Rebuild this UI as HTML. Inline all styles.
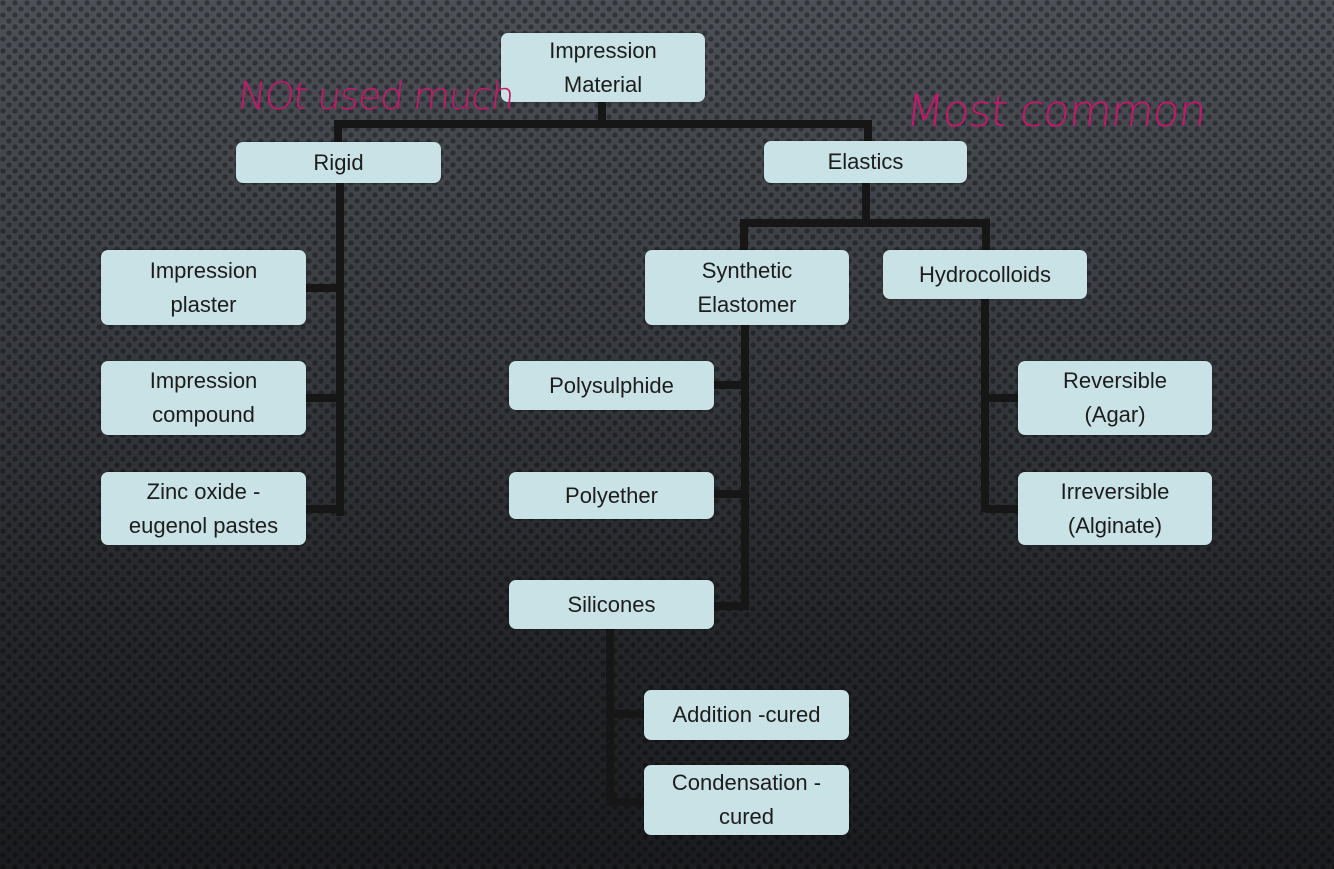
<!DOCTYPE html>
<html><head><meta charset="utf-8"><style>
html,body{margin:0;padding:0}
body{width:1334px;height:869px;overflow:hidden;position:relative;font-family:"Liberation Sans",sans-serif;
background:
radial-gradient(circle at 3px 3px, rgba(0,0,0,.35) 2.2px, transparent 3px) 0 0/12px 12px,
radial-gradient(circle at 3px 3px, rgba(0,0,0,.35) 2.2px, transparent 3px) 6px 6px/12px 12px,
linear-gradient(#4d5157 0%, #3a3d42 35%, #25272b 70%, #1b1c1f 100%);}
.b{position:absolute;background:#c9e2e5;border-radius:7px;display:flex;align-items:center;justify-content:center;text-align:center;font-size:22px;line-height:34px;color:#1c1c1c;box-shadow:0 0 2px rgba(0,0,0,.5)}
.l{position:absolute;background:#161616}
.h{position:absolute;color:#c8176a;font-family:"DejaVu Sans",sans-serif;font-weight:200;transform:skewX(-6deg);white-space:nowrap}
</style></head><body>
<div class="l" style="left:598px;top:100px;width:8px;height:28px"></div>
<div class="l" style="left:334px;top:120px;width:538px;height:8px"></div>
<div class="l" style="left:334px;top:120px;width:8px;height:24px"></div>
<div class="l" style="left:864px;top:120px;width:8px;height:24px"></div>
<div class="l" style="left:336px;top:182px;width:8px;height:334px"></div>
<div class="l" style="left:304px;top:284px;width:36px;height:8px"></div>
<div class="l" style="left:304px;top:394px;width:36px;height:8px"></div>
<div class="l" style="left:304px;top:505px;width:36px;height:8px"></div>
<div class="l" style="left:862px;top:182px;width:8px;height:44px"></div>
<div class="l" style="left:740px;top:219px;width:250px;height:8px"></div>
<div class="l" style="left:740px;top:219px;width:8px;height:34px"></div>
<div class="l" style="left:982px;top:219px;width:8px;height:34px"></div>
<div class="l" style="left:741px;top:324px;width:8px;height:286px"></div>
<div class="l" style="left:712px;top:381px;width:34px;height:8px"></div>
<div class="l" style="left:712px;top:490px;width:34px;height:8px"></div>
<div class="l" style="left:712px;top:602px;width:34px;height:8px"></div>
<div class="l" style="left:981px;top:298px;width:8px;height:214px"></div>
<div class="l" style="left:985px;top:394px;width:36px;height:8px"></div>
<div class="l" style="left:985px;top:505px;width:36px;height:8px"></div>
<div class="l" style="left:606px;top:628px;width:8px;height:178px"></div>
<div class="l" style="left:610px;top:710px;width:36px;height:8px"></div>
<div class="l" style="left:610px;top:798px;width:36px;height:8px"></div>
<div class="b" style="left:501px;top:33px;width:204px;height:69px">Impression<br>Material</div>
<div class="b" style="left:236px;top:142px;width:205px;height:41px">Rigid</div>
<div class="b" style="left:764px;top:141px;width:203px;height:42px">Elastics</div>
<div class="b" style="left:101px;top:250px;width:205px;height:75px">Impression<br>plaster</div>
<div class="b" style="left:101px;top:361px;width:205px;height:74px">Impression<br>compound</div>
<div class="b" style="left:101px;top:472px;width:205px;height:73px">Zinc oxide -<br>eugenol pastes</div>
<div class="b" style="left:645px;top:250px;width:204px;height:75px">Synthetic<br>Elastomer</div>
<div class="b" style="left:883px;top:250px;width:204px;height:49px">Hydrocolloids</div>
<div class="b" style="left:509px;top:361px;width:205px;height:49px">Polysulphide</div>
<div class="b" style="left:509px;top:472px;width:205px;height:47px">Polyether</div>
<div class="b" style="left:509px;top:580px;width:205px;height:49px">Silicones</div>
<div class="b" style="left:1018px;top:361px;width:194px;height:74px">Reversible<br>(Agar)</div>
<div class="b" style="left:1018px;top:472px;width:194px;height:73px">Irreversible<br>(Alginate)</div>
<div class="b" style="left:644px;top:690px;width:205px;height:50px">Addition -cured</div>
<div class="b" style="left:644px;top:765px;width:205px;height:70px">Condensation -<br>cured</div>
<div class="h" style="left:238px;top:74px;font-size:38px;letter-spacing:-1.5px">NOt used much</div>
<div class="h" style="left:906px;top:86px;font-size:44px;letter-spacing:-1px">Most common</div>
</body></html>
